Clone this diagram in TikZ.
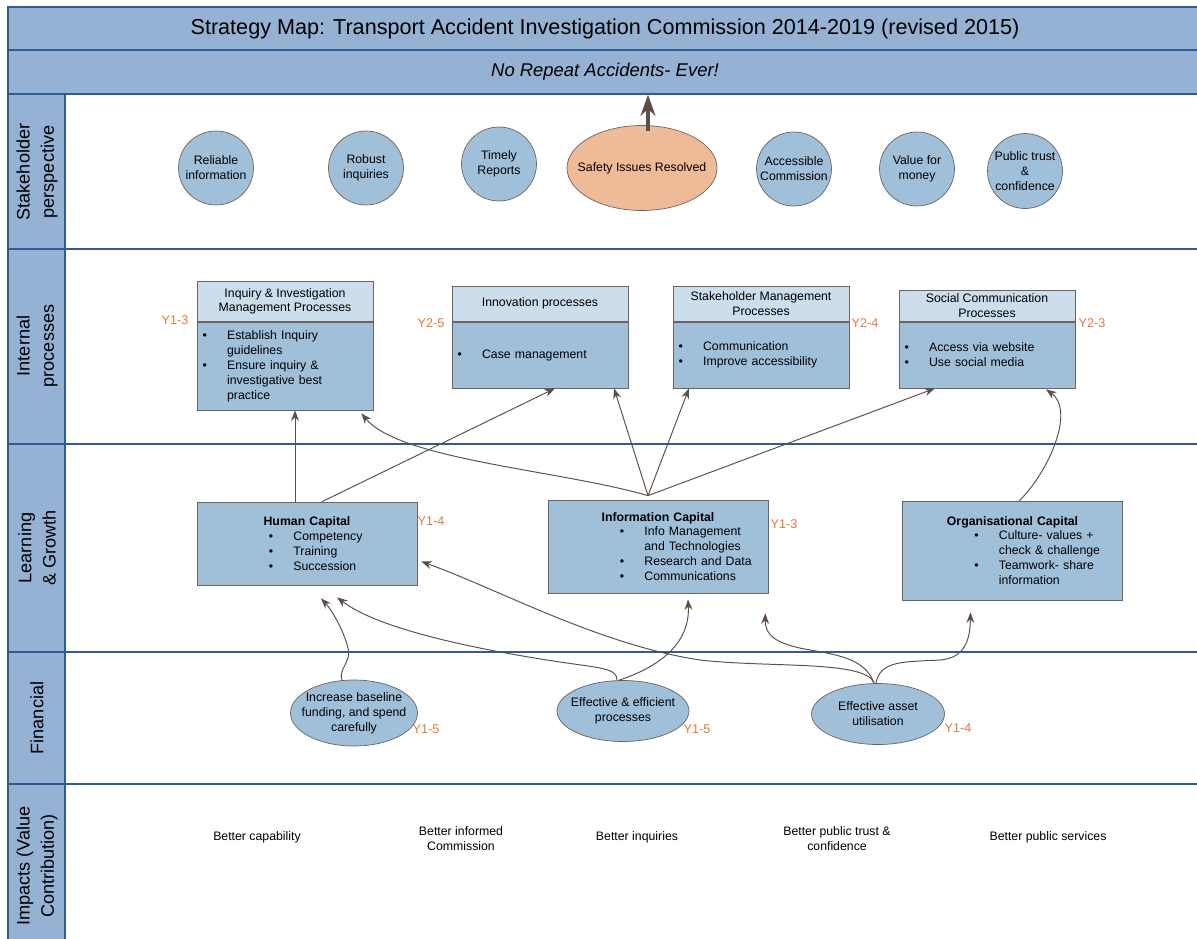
\documentclass[tikz,border=0pt]{standalone}
\usepackage{fontspec}
\setmainfont{Liberation Sans}
\usepackage{xcolor}
\usepackage{tikz}
\usetikzlibrary{shapes.geometric, arrows.meta, calc}

\definecolor{bandblue}{HTML}{95B1D3}
\definecolor{laneline}{HTML}{2F5A93}
\definecolor{boxblue}{HTML}{A0C0DA}
\definecolor{headblue}{HTML}{CCDDEC}
\definecolor{peach}{HTML}{EFBA98}
\definecolor{edgegray}{HTML}{6F6262}
\definecolor{linkbrown}{HTML}{5E4E48}
\definecolor{yearorange}{HTML}{E2783A}

\newcommand{\boxfont}{\fontsize{7}{8.5}\selectfont}
\newcommand{\bitem}[1]{\makebox[14pt][l]{\textbullet}#1}
\newcommand{\bcont}[1]{\hspace*{14pt}#1}
\newcommand{\capline}[1]{\makebox[4.2cm][l]{\hspace*{38pt}#1}}

\tikzstyle{band} = [rectangle, draw=laneline, fill=bandblue, line width=0.8pt,
minimum width=23.88cm]
\tikzstyle{column} = [draw=laneline, fill=bandblue, line width=0.8pt]
\tikzstyle{lane-line} = [draw=laneline, line width=1pt]
\tikzstyle{lane-label} = [rotate=90, align=center, font=\fontsize{10.3}{13.8}\selectfont]
\tikzstyle{goal} = [ellipse, draw=edgegray, fill=boxblue, 
inner xsep=-4.5pt, inner ysep=0pt,
minimum width=1.5cm, 
minimum height=1.48cm, 
align=center, font=\boxfont]
\tikzstyle{proc-head} = [rectangle, draw=edgegray, fill=headblue, 
minimum width=3.52cm, inner sep=0pt, 
align=center, font=\boxfont]
\tikzstyle{proc-body} = [rectangle, draw=edgegray, fill=boxblue, 
minimum width=3.52cm, 
text width=3.3cm, inner xsep=0.11cm, 
align=left, font=\boxfont]
\tikzstyle{capital} = [rectangle, draw=edgegray, fill=boxblue, 
minimum width=4.4cm, 
text width=4.2cm, inner xsep=0.1cm, 
align=center, font=\boxfont]
\tikzstyle{money} = [ellipse, draw=edgegray, fill=boxblue, 
inner xsep=-4.5pt, inner ysep=0pt, 
align=center, font=\boxfont]
\tikzstyle{year} = [text=yearorange, font=\fontsize{7.2}{8.5}\selectfont]
\tikzstyle{impact} = [align=center, font=\boxfont]
\tikzstyle{arrow} = [draw=linkbrown, line width=0.55pt, ->, >={Stealth[length=6pt,width=4.5pt]}]
\tikzstyle{big-arrow} = [draw=linkbrown, line width=2.2pt, ->, >={Stealth[length=12pt,width=8.5pt]}]

\begin{document}
\begin{tikzpicture}[x=0.02cm, y=-0.02cm]
    \useasboundingbox (0,0) rectangle (1197,939);

    % heading bands and lanes
    \node (title) [band, minimum height=0.86cm, font=\fontsize{12.3}{14}\selectfont] at (605,28.5) {Strategy Map: Transport Accident Investigation Commission 2014-2019 (revised 2015)};
    \node (motto) [band, minimum height=0.88cm, font=\fontsize{10.5}{13}\selectfont\itshape] at (605,72) {No Repeat Accidents- Ever!};
    \draw [column] (8,94) rectangle (65,950);
    \draw [lane-line] (8,249) -- (1202,249);
    \draw [lane-line] (8,444) -- (1202,444);
    \draw [lane-line] (8,652) -- (1202,652);
    \draw [lane-line] (8,784) -- (1202,784);

    \node (lbl-stakeholder) [lane-label] at (37,172) {Stakeholder\\perspective};
    \node (lbl-internal) [lane-label] at (37,346) {Internal\\processes};
    \node (lbl-learning) [lane-label] at (37,548) {Learning\\\& Growth};
    \node (lbl-financial) [lane-label] at (37,718) {Financial};
    \node (lbl-impacts) [lane-label] at (37,866) {Impacts (Value\\Contribution)};

    % stakeholder perspective
    \node (reliable) [goal] at (216,168) {Reliable\\information};
    \node (robust) [goal] at (366,168) {Robust\\inquiries};
    \node (timely) [goal] at (499,164) {Timely\\Reports};
    \node (safety) [goal, fill=peach, inner xsep=-7pt, minimum width=3cm, minimum height=1.7cm] at (642,168) {Safety Issues Resolved};
    \node (accessible) [goal] at (794,169) {Accessible\\Commission};
    \node (value) [goal] at (917,169) {Value for\\money};
    \node (trust) [goal, minimum height=1.5cm] at (1025,171) {Public trust\\\&\\confidence};

    \coordinate (safety-foot) at ($(safety.north)+(6,6)$);
    \draw [big-arrow] (safety-foot) -- (safety-foot |- motto.south);

    % internal processes
    \node (inquiry) [proc-body, minimum height=1.76cm] at (285,366) {\bitem{Establish Inquiry}\\\bcont{guidelines}\\\bitem{Ensure inquiry \&}\\\bcont{investigative best}\\\bcont{practice}};
    \node (inquiry-head) [proc-head, minimum height=0.8cm, anchor=south] at (inquiry.north) {Inquiry \& Investigation\\Management Processes};
    \node (innovation) [proc-body, minimum height=1.32cm] at (540,355) {\bitem{Case management}};
    \node (innovation-head) [proc-head, minimum height=0.7cm, anchor=south] at (innovation.north) {Innovation processes};
    \node (stakeholder) [proc-body, minimum height=1.32cm] at (761,355) {\bitem{Communication}\\\bitem{Improve accessibility}};
    \node (stakeholder-head) [proc-head, minimum height=0.7cm, anchor=south] at (stakeholder.north) {Stakeholder Management\\Processes};
    \node (social) [proc-body, minimum height=1.32cm] at (987,355) {\bitem{Access via website}\\\bitem{Use social media}};
    \node (social-head) [proc-head, minimum height=0.62cm, anchor=south] at (social.north) {Social Communication\\Processes};

    \node (inquiry-year) [year] at (175,320) {Y1-3};
    \node (innovation-year) [year] at (431,323) {Y2-5};
    \node (stakeholder-year) [year] at (865,323) {Y2-4};
    \node (social-year) [year] at (1092,323) {Y2-3};

    % learning and growth
    \node (human) [capital, minimum height=1.66cm] at (307,543.5) {\textbf{Human Capital}\\\capline{\bitem{Competency}}\\\capline{\bitem{Training}}\\\capline{\bitem{Succession}}};
    \node (info) [capital, minimum height=1.86cm] at (658,546.5) {\textbf{Information Capital}\\\capline{\bitem{Info Management}}\\\capline{\bcont{and Technologies}}\\\capline{\bitem{Research and Data}}\\\capline{\bitem{Communications}}};
    \node (org) [capital, minimum height=1.98cm] at (1012.5,550.5) {\textbf{Organisational Capital}\\\capline{\bitem{Culture- values +}}\\\capline{\bcont{check \& challenge}}\\\capline{\bitem{Teamwork- share}}\\\capline{\bcont{information}}};

    \node (human-year) [year] at (431,521) {Y1-4};
    \node (info-year) [year] at (784,524) {Y1-3};

    % financial
    \node (funding) [money, minimum width=2.54cm, minimum height=1.32cm] at (354,713) {Increase baseline\\funding, and spend\\carefully};
    \node (efficient) [money, minimum width=2.64cm, minimum height=1.22cm] at (623,711) {Effective \& efficient\\processes};
    \node (asset) [money, minimum width=2.66cm, minimum height=1.22cm] at (878,714) {Effective asset\\utilisation};

    \node (funding-year) [year] at (426,729) {Y1-5};
    \node (efficient-year) [year] at (697,729) {Y1-5};
    \node (asset-year) [year] at (958,728) {Y1-4};

    % impacts
    \node (better-capability) [impact] at (257,837) {Better capability};
    \node (better-informed) [impact] at (461,839) {Better informed\\Commission};
    \node (better-inquiries) [impact] at (637,837) {Better inquiries};
    \node (better-trust) [impact] at (837,839) {Better public trust \&\\confidence};
    \node (better-services) [impact] at (1048,837) {Better public services};

    % links into internal processes
    \coordinate (info-top) at ($(info.north)+(-10,-4)$);
    \draw [arrow] ($(human.north)+(-12,0)$) -- ($(inquiry.south)+(10,0)$);
    \draw [arrow] ($(human.north)+(15,0)$) -- ($(innovation.south)+(15,0)$);
    \draw [arrow] (info-top) .. controls (560,470) and (400,460) .. ($(inquiry.south east)+(-12,3)$);
    \draw [arrow] (info-top) -- ($(innovation.south)+(74,0)$);
    \draw [arrow] (info-top) -- ($(stakeholder.south)+(-72,0)$);
    \draw [arrow] (info-top) -- ($(social.south)+(-52,0)$);
    \draw [arrow] ($(org.north)+(7,0)$) .. controls (1050,470) and (1075,410) .. ($(social.south)+(59,1)$);

    % links into learning and growth
    \draw [arrow] ($(funding.north)+(-12,1)$) .. controls (338,668) and (352,662) .. (348,648) .. controls (343,628) and (330,608) .. ($(human.south)+(14,13)$);
    \draw [arrow] ($(efficient.north)+(-6,0)$) .. controls (617,668) and (600,668) .. (560,662) .. controls (480,650) and (380,630) .. ($(human.south)+(30,12)$);
    \draw [arrow] ($(efficient.north)+(-4,0)$) .. controls (665,665) and (690,640) .. ($(info.south)+(30,6)$);
    \draw [arrow] ($(asset.north)+(-4,0)$) .. controls (866,660) and (770,668) .. (700,660) .. controls (600,645) and (500,590) .. ($(human.east)+(4,18)$);
    \draw [arrow] ($(asset.north)+(-4,0)$) .. controls (866,660) and (840,655) .. (810,650) .. controls (775,644) and (765,635) .. ($(info.south east)+(-3,20)$);
    \draw [arrow] ($(asset.north)+(-2,0)$) .. controls (880,660) and (905,662) .. (940,660) .. controls (965,658) and (970,640) .. ($(org.south)+(-42,12)$);
\end{tikzpicture}
\end{document}
